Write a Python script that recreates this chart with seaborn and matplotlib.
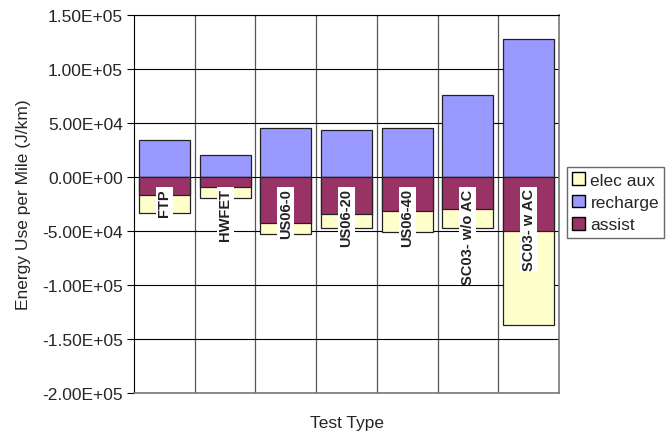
import numpy as np
import pandas as pd
import seaborn as sns
import matplotlib.pyplot as plt
from matplotlib.patches import Patch
from matplotlib.ticker import FuncFormatter, FixedLocator

# values (J/km)
tests = ['FTP', 'HWFET', 'US06-0', 'US06-20', 'US06-40', 'SC03- w/o AC', 'SC03- w AC']
recharge = [34500, 20100, 45100, 43200, 45100, 76200, 127800]
assist = [-16700, -9000, -42600, -34500, -31500, -29900, -50300]
elec_aux = [-16600, -10400, -9900, -12400, -19700, -17000, -86500]

df = pd.DataFrame({'test': tests, 'recharge': recharge, 'assist': assist, 'elec_aux': elec_aux})
df['neg_total'] = df['assist'] + df['elec_aux']

sns.set_style('white')
plt.rcParams['font.family'] = ['Liberation Sans', 'DejaVu Sans']

fig = plt.figure(figsize=(6.7, 4.35), dpi=100)
ax = fig.add_axes([134 / 670, 1 - 394 / 435, 425 / 670, 378 / 435])

bar_kw = dict(width=0.84, edgecolor='#222222', linewidth=0.9, ax=ax, zorder=3)
sns.barplot(data=df, x='test', y='recharge', color='#9999FF', saturation=1, **bar_kw)
# elec aux stacked under assist: draw the full negative stack, then assist on top
sns.barplot(data=df, x='test', y='neg_total', color='#FFFFCC', saturation=1, **bar_kw)
sns.barplot(data=df, x='test', y='assist', color='#993366', saturation=1, **bar_kw)

ax.set_xlim(-0.5, len(tests) - 0.5)
ax.set_ylim(-2e5, 1.5e5)
ax.set_yticks(np.arange(-2e5, 1.51e5, 5e4))
ax.yaxis.set_major_formatter(FuncFormatter(lambda v, p: f'{v:.2E}'))
ax.tick_params(axis='y', direction='out', length=5, width=0.8, color='black',
               labelsize=12.5, left=True, pad=3)
ax.tick_params(axis='x', bottom=False, labelbottom=False)

# grid: horizontal at major ticks, vertical at category boundaries
ax.xaxis.set_minor_locator(FixedLocator(np.arange(0.5, len(tests) - 0.5, 1)))
ax.grid(axis='y', which='major', color='black', linewidth=0.8, zorder=0)
ax.grid(axis='x', which='minor', color='#555555', linewidth=0.9, zorder=0)
ax.set_axisbelow(True)
for side in ['left', 'top']:
    ax.spines[side].set_color('black')
for side in ['right', 'bottom']:
    ax.spines[side].set_color('#777777')
    ax.spines[side].set_linewidth(1.2)

# category labels hang below the zero line
for i, t in enumerate(tests):
    ax.text(i, -10500, t, rotation=90, ha='center', va='top', fontsize=10.5,
            fontweight='bold', color='#222222', zorder=5,
            bbox=dict(facecolor='white', edgecolor='none', pad=1))

ax.set_xlabel('Test Type', fontsize=12.5, va='center')
ax.xaxis.set_label_coords(0.5, -30 / 378)
ax.set_ylabel('Energy Use per Mile (J/km)', fontsize=12.5, labelpad=8)

handles = [Patch(facecolor='#FFFFCC', edgecolor='black', label='elec aux'),
           Patch(facecolor='#9999FF', edgecolor='black', label='recharge'),
           Patch(facecolor='#993366', edgecolor='black', label='assist')]
fig.legend(handles=handles, loc='upper left', bbox_to_anchor=(567 / 670, 1 - 168 / 435),
           frameon=True, fancybox=False, edgecolor='#444444', fontsize=12.5,
           handlelength=0.75, handleheight=0.75, handletextpad=0.3, borderpad=0.3,
           labelspacing=0.4, borderaxespad=0)

fig.savefig('out.png', dpi=100)
